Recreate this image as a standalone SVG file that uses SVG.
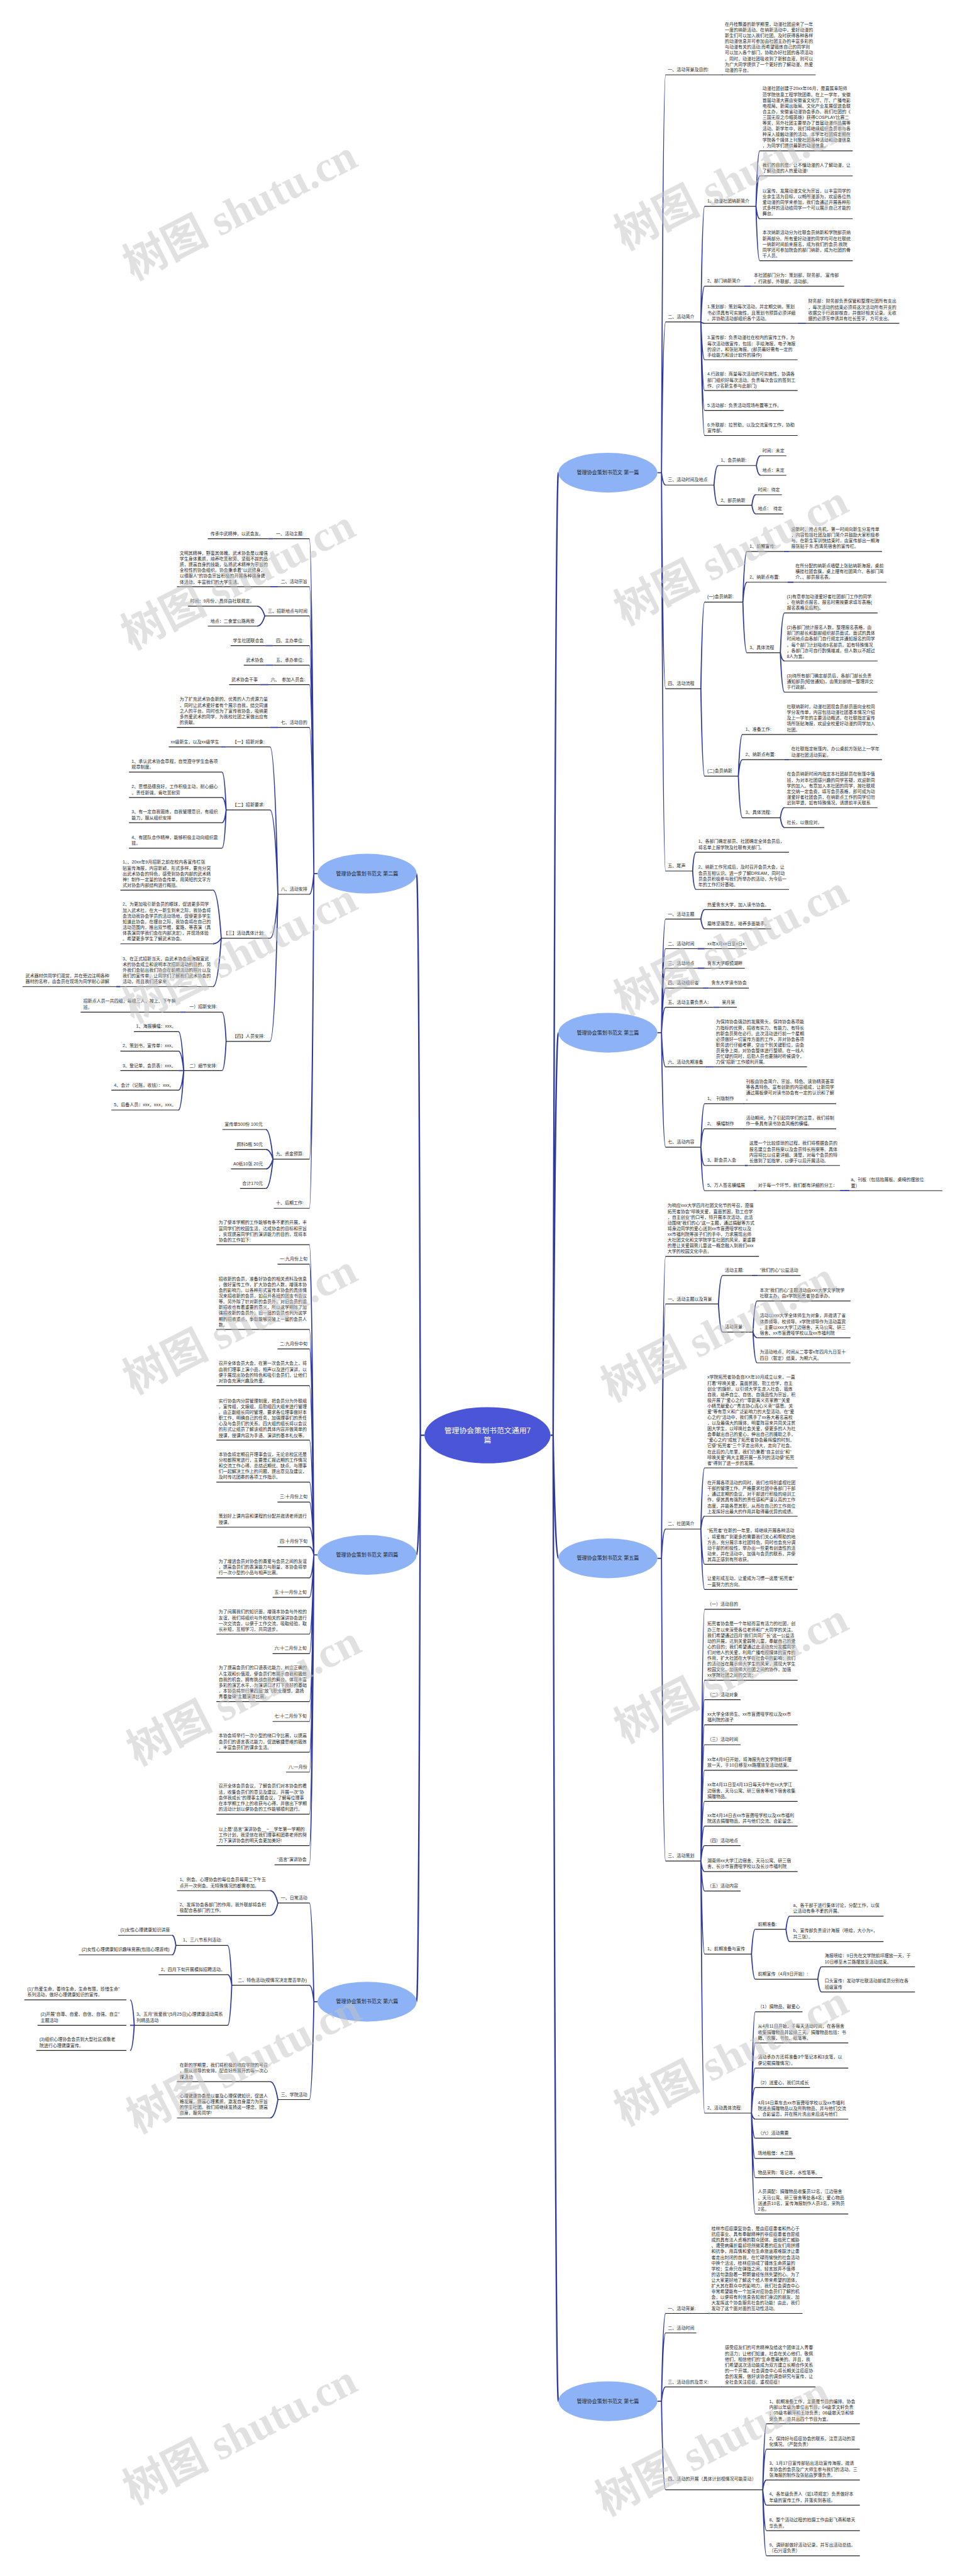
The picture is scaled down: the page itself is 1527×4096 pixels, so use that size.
<svg xmlns="http://www.w3.org/2000/svg" width="1527" height="4096" viewBox="0 0 1527 4096">
<style>
.t{font-family:"Liberation Sans","Noto Sans CJK SC",sans-serif;font-size:11.8px;fill:#2a2a2a;dominant-baseline:central}
.u{fill:none;stroke:#222;stroke-width:2}
.c{fill:none;stroke:#2e3b9c;stroke-width:3}
.c0{fill:none;stroke:#2e3b9c;stroke-width:4}
.e1{fill:#8db3f6}
.et{font-family:"Liberation Sans","Noto Sans CJK SC",sans-serif;font-size:13.5px;fill:#1f1f1f;text-anchor:middle;dominant-baseline:central}
.ct{font-family:"Liberation Sans","Noto Sans CJK SC",sans-serif;font-size:20px;fill:#fff;text-anchor:middle;dominant-baseline:central}
.wm{font-family:"Liberation Serif","Noto Sans CJK SC",serif;font-size:115px;font-weight:bold;fill:#c4c4c4;fill-opacity:.5;text-anchor:middle;dominant-baseline:central}
</style>
<rect width="1527" height="4096" fill="#fff"/>
<g transform="scale(0.59648)">
<g id="connectors">
<path class="c0" d="M1132 3826H1121 M1121 3826Q1117 2329 1111 2329 M1121 3826Q1117 4145 1111 4145 M1121 3826Q1117 5336 1111 5336 M1468 3826H1475 M1475 3826Q1481 1260 1489 1260 M1475 3826Q1481 2753 1489 2753 M1475 3826Q1481 4154 1489 4154 M1475 3826Q1481 6401 1489 6401"/>
<path class="c" d="M1753 1260H1764 M1764 1260Q1768 199.5 1775 199.5 M1764 1260Q1768 858 1775 858 M1764 1260Q1768 1293 1775 1293 M1764 1260Q1768 1836 1775 1836 M1764 1260Q1768 2322 1775 2322"/>
<path class="c" d="M1925 199.5H1927 M1869 858Q1873 550 1879 550 M1869 858Q1873 763 1879 763 M1869 858Q1873 862 1879 862 M1869 858Q1873 959 1879 959 M1869 858Q1873 1041 1879 1041 M1869 858Q1873 1094 1879 1094 M1869 858Q1873 1161 1879 1161"/>
<path class="c" d="M2016 550Q2020 402 2026 402 M2016 550Q2020 469 2026 469 M2016 550Q2020 583 2026 583 M2016 550Q2020 695 2026 695 M1985 763H2003 M2127 862H2150"/>
<path class="c" d="M1904 1293Q1908 1241 1915 1241 M1904 1293Q1908 1347 1915 1347 M2017 1241Q2021 1215 2028 1215 M2017 1241Q2021 1267 2028 1267 M2005 1347Q2009 1319 2015 1319 M2005 1347Q2009 1370 2015 1370"/>
<path class="c" d="M1869 1836Q1873 1605 1879 1605 M1869 1836Q1873 2069 1879 2069 M1981 1605Q1985 1470 1992 1470 M1981 1605Q1985 1552 1992 1552 M1981 1605Q1985 1740 1992 1740 M2090 1470H2104 M2100 1552H2116 M2081 1740Q2085 1634 2092 1634 M2081 1740Q2085 1762 2092 1762 M2081 1740Q2085 1845 2092 1845"/>
<path class="c" d="M1969 2069Q1973 1958 1980 1958 M1969 2069Q1973 2025 1980 2025 M1969 2069Q1973 2180 1980 2180 M2090 1958H2092 M2092 2025H2104 M2081 2180Q2085 2153 2092 2153 M2081 2180Q2085 2206 2092 2206 M1847 2322Q1850 2272 1856 2272 M1847 2322Q1850 2371 1856 2371"/>
<path class="c" d="M1753 2753H1764 M1764 2753Q1768 2450 1775 2450 M1764 2753Q1768 2529 1775 2529 M1764 2753Q1768 2581 1775 2581 M1764 2753Q1768 2634 1775 2634 M1764 2753Q1768 2685 1775 2685 M1764 2753Q1768 2844 1775 2844 M1764 2753Q1768 3058 1775 3058"/>
<path class="c" d="M1869 2450Q1873 2425 1879 2425 M1869 2450Q1873 2476 1879 2476 M1860 2529H1879 M1860 2581H1879 M1874 2634H1890 M1902 2685H1918 M1880 2844H1904"/>
<path class="c" d="M1869 3058Q1873 2942 1879 2942 M1869 3058Q1873 3009 1879 3009 M1869 3058Q1873 3107 1879 3107 M1869 3058Q1873 3174 1879 3174 M1982 2942H1985 M1982 3009H1985 M1986 3107H1994 M2010 3174H2017 M2240 3174H2265"/>
<path class="c" d="M1753 4154H1764 M1764 4154Q1768 3349 1775 3349 M1764 4154Q1768 3476 1775 3476 M1764 4154Q1768 4076 1775 4076 M1764 4154Q1768 4961 1775 4961"/>
<path class="c" d="M1916 3476Q1920 3400 1927 3400 M1916 3476Q1920 3551 1927 3551 M2005 3400H2021 M2008 3551Q2012 3468 2019 3468 M2008 3551Q2012 3566 2019 3566 M2008 3551Q2012 3633 2019 3633"/>
<path class="c" d="M1869 4076Q1873 3913 1879 3913 M1869 4076Q1873 4042 1879 4042 M1869 4076Q1873 4170 1879 4170 M1869 4076Q1873 4237 1879 4237"/>
<path class="c" d="M1869 4961Q1873 4290 1879 4290 M1869 4961Q1873 4479 1879 4479 M1869 4961Q1873 4531 1879 4531 M1869 4961Q1873 4598 1879 4598 M1869 4961Q1873 4651 1879 4651 M1869 4961Q1873 4719 1879 4719 M1869 4961Q1873 4802 1879 4802 M1869 4961Q1873 4868 1879 4868 M1869 4961Q1873 4920 1879 4920 M1869 4961Q1873 4989 1879 4989 M1869 4961Q1873 5041 1879 5041 M1869 4961Q1873 5209 1879 5209 M1869 4961Q1873 5633 1879 5633"/>
<path class="c" d="M2004 5209Q2008 5143 2014 5143 M2004 5209Q2008 5276 2014 5276 M2096 5143Q2100 5108 2106 5108 M2096 5143Q2100 5176 2106 5176 M2181 5276Q2185 5243 2191 5243 M2181 5276Q2185 5310 2191 5310"/>
<path class="c" d="M2004 5633Q2008 5363 2014 5363 M2004 5633Q2008 5446 2014 5446 M2004 5633Q2008 5513 2014 5513 M2004 5633Q2008 5565 2014 5565 M2004 5633Q2008 5649 2014 5649 M2004 5633Q2008 5700 2014 5700 M2004 5633Q2008 5754 2014 5754 M2004 5633Q2008 5805 2014 5805 M2004 5633Q2008 5902 2014 5902"/>
<path class="c" d="M1753 6401H1764 M1764 6401Q1768 6167 1775 6167 M1764 6401Q1768 6219 1775 6219 M1764 6401Q1768 6363 1775 6363 M1764 6401Q1768 6637 1775 6637 M1890 6167H1892 M1922 6363H1927"/>
<path class="c" d="M2034 6637Q2038 6461 2044 6461 M2034 6637Q2038 6529 2044 6529 M2034 6637Q2038 6611 2044 6611 M2034 6637Q2038 6678 2044 6678 M2034 6637Q2038 6746 2044 6746 M2034 6637Q2038 6813 2044 6813"/>
<path class="c" d="M847 2329H837 M837 2329Q832 1436 825 1436 M837 2329Q832 1564 825 1564 M837 2329Q832 1642 825 1642 M837 2329Q832 1721 825 1721 M837 2329Q832 1773 825 1773 M837 2329Q832 1825 825 1825 M837 2329Q832 1939 825 1939 M837 2329Q832 2384 825 2384 M837 2329Q832 3090 825 3090 M837 2329Q832 3221 825 3221"/>
<path class="c" d="M728 1436H715 M741 1564H720 M728 1721H708 M728 1773H708 M716 1825H693 M741 1939H720 M706 1642Q698 1616 685 1616 M706 1642Q698 1669 685 1669"/>
<path class="c" d="M741 2384Q733 1991 720 1991 M741 2384Q733 2159 720 2159 M741 2384Q733 2501 720 2501 M741 2384Q733 2776 720 2776 M603 1991H590 M603 2159Q599 2058 592 2058 M603 2159Q599 2126 592 2126 M603 2159Q599 2193 592 2193 M603 2159Q599 2261 592 2261"/>
<path class="c" d="M590 2501Q581 2373 568 2373 M590 2501Q581 2516 568 2516 M590 2501Q581 2630 568 2630 M321 2630H310"/>
<path class="c" d="M603 2776Q599 2698 592 2698 M603 2776Q599 2854 592 2854 M496 2698H480 M490 2854Q484 2750 476 2750 M490 2854Q484 2802 476 2802 M490 2854H476 M490 2854Q484 2906 476 2906 M490 2854Q484 2959 476 2959"/>
<path class="c" d="M728 3090Q720 3011 709 3011 M728 3090Q720 3064 709 3064 M728 3090Q720 3116 709 3116 M728 3090Q720 3168 709 3168"/>
<path class="c" d="M847 4145H837 M837 4145Q832 3318 825 3318 M837 4145Q832 3370 825 3370 M837 4145Q832 3544 825 3544 M837 4145Q832 3596 825 3596 M837 4145Q832 3694 825 3694 M837 4145Q832 3839 825 3839 M837 4145Q832 3951 825 3951 M837 4145Q832 4004 825 4004 M837 4145Q832 4071 825 4071 M837 4145Q832 4123 825 4123 M837 4145Q832 4206 825 4206 M837 4145Q832 4258 825 4258 M837 4145Q832 4356 825 4356 M837 4145Q832 4408 825 4408 M837 4145Q832 4536 825 4536 M837 4145Q832 4589 825 4589 M837 4145Q832 4671 825 4671 M837 4145Q832 4724 825 4724 M837 4145Q832 4836 825 4836 M837 4145Q832 4920 825 4920 M837 4145Q832 4971 825 4971"/>
<path class="c" d="M847 5336H837 M837 5336Q832 5073 825 5073 M837 5336Q832 5292 825 5292 M837 5336Q832 5597 825 5597 M741 5073Q733 5040 720 5040 M741 5073Q733 5106 720 5106 M741 5597Q733 5549 720 5549 M741 5597Q733 5646 720 5646"/>
<path class="c" d="M618 5292Q614 5186 607 5186 M618 5292Q614 5264 607 5264 M618 5292Q614 5399 607 5399 M469 5186Q465 5159 459 5159 M469 5186Q465 5211 459 5211 M358 5399Q354 5331 347 5331 M358 5399H347 M358 5399Q354 5466 347 5466"/>
</g>
<g id="root"><ellipse cx="1300" cy="3826" rx="168" ry="75" fill="#4a55d8"/><text class="ct" x="1300" y="3814">管理协会策划书范文通用7<tspan x="1300" dy="25">篇</tspan></text></g>
<g id="p1"><ellipse class="e1" cx="1621" cy="1260" rx="132" ry="53"/><text class="et" x="1621" y="1260">管理协会策划书范文 第一篇</text></g>
<g id="p2"><ellipse class="e1" cx="979" cy="2329" rx="132" ry="53"/><text class="et" x="979" y="2329">管理协会策划书范文 第二篇</text></g>
<g id="p3"><ellipse class="e1" cx="1621" cy="2753" rx="132" ry="53"/><text class="et" x="1621" y="2753">管理协会策划书范文 第三篇</text></g>
<g id="p4"><ellipse class="e1" cx="979" cy="4145" rx="132" ry="53"/><text class="et" x="979" y="4145">管理协会策划书范文 第四篇</text></g>
<g id="p5"><ellipse class="e1" cx="1621" cy="4154" rx="132" ry="53"/><text class="et" x="1621" y="4154">管理协会策划书范文 第五篇</text></g>
<g id="p6"><ellipse class="e1" cx="979" cy="5336" rx="132" ry="53"/><text class="et" x="979" y="5336">管理协会策划书范文 第六篇</text></g>
<g id="p7"><ellipse class="e1" cx="1621" cy="6401" rx="132" ry="53"/><text class="et" x="1621" y="6401">管理协会策划书范文 第七篇</text></g>

<g id="r1a"><text class="t" x="1781" y="185.5">一、活动背景及目的:</text><path class="u" d="M1775 199.5H1925"/></g>
<g id="r1a1"><text class="t" x="1933" y="63.9">在丹桂飘香的新学期里，动漫社团迎来了一年<tspan x="1933" dy="15.2">一度的纳新活动。在纳新活动中，爱好动漫的</tspan><tspan x="1933" dy="15.2">新生们可以加入我们社团。及时获得各种各样</tspan><tspan x="1933" dy="15.2">的动漫信息并可参加由社团主办的丰富多彩的</tspan><tspan x="1933" dy="15.2">与动漫有关的活动;而希望锻炼自己的同学则</tspan><tspan x="1933" dy="15.2">可以加入各个部门，协助办好社团的各项活动</tspan><tspan x="1933" dy="15.2">。同时，动漫社团吸收到了新鲜血液，则可以</tspan><tspan x="1933" dy="15.2">为广大同学提供了一个更好的了解动漫、热爱</tspan><tspan x="1933" dy="15.2">动漫的平台。</tspan></text><path class="u" d="M1927 199.5H2175"/></g>
<g id="r1b"><text class="t" x="1781" y="844">二、活动简介</text><path class="u" d="M1775 858H1869"/></g>
<g id="r1b1"><text class="t" x="1886" y="536">1、动漫社团纳新简介</text><path class="u" d="M1879 550H2016"/></g>
<g id="r1b1a"><text class="t" x="2033" y="236">动漫社团创建于20xx年06月，是直属阜阳师<tspan x="2033" dy="15.2">范学院信息工程学院团委。在上一学年，安徽</tspan><tspan x="2033" dy="15.2">首届动漫大赛由安徽省文化厅、厅、广播电影</tspan><tspan x="2033" dy="15.2">电视局、新闻出版局、文化产业发展促进会联</tspan><tspan x="2033" dy="15.2">合主办，安徽省动漫协会承办。我们社团的《</tspan><tspan x="2033" dy="15.2">三国无双之巾帼英雄》获得COSPLAY比赛二</tspan><tspan x="2033" dy="15.2">等奖，另外社团主要举办了首届动漫作品展等</tspan><tspan x="2033" dy="15.2">活动。新学年中，我们将继续组织会员参与各</tspan><tspan x="2033" dy="15.2">种深入接触动漫的活动。本学年社团将定期在</tspan><tspan x="2033" dy="15.2">学院各个媒体上刊登社团各种活动和动漫信息</tspan><tspan x="2033" dy="15.2">，为同学们提供最新的动漫信息。</tspan></text><path class="u" d="M2026 402H2274"/></g>
<g id="r1b1b"><text class="t" x="2033" y="439.8">我们的目的是：让不懂动漫的人了解动漫，让<tspan x="2033" dy="15.2">了解动漫的人热爱动漫!</tspan></text><path class="u" d="M2026 469H2274"/></g>
<g id="r1b1c"><text class="t" x="2033" y="508.2">以宣传、发展动漫文化为宗旨，以丰富同学的<tspan x="2033" dy="15.2">业余生活为目标，以畅所漫游为，欢迎各位热</tspan><tspan x="2033" dy="15.2">爱动漫的同学来参加，我们会通过开展各种形</tspan><tspan x="2033" dy="15.2">式多样的活动给同学一个可以展示自己才能的</tspan><tspan x="2033" dy="15.2">舞台。</tspan></text><path class="u" d="M2026 583H2274"/></g>
<g id="r1b1d"><text class="t" x="2033" y="620.2">本次纳新活动分为社联会员纳新和学院部员纳<tspan x="2033" dy="15.2">新两部分。所有爱好动漫的同学均可在社联统</tspan><tspan x="2033" dy="15.2">一纳新时间前来报名，成为我们的会员;我院</tspan><tspan x="2033" dy="15.2">同学还可参加院会的部门纳新，成为社团的骨</tspan><tspan x="2033" dy="15.2">干人员。</tspan></text><path class="u" d="M2026 695H2274"/></g>
<g id="r1b2"><text class="t" x="1886" y="749">2、部门纳新简介</text><path class="u" d="M1879 763H1985"/></g>
<g id="r1b2a"><text class="t" x="2010" y="733.8">本社团部门分为：策划部，财务部，.宣传部<tspan x="2010" dy="15.2">，行政部，外联部，活动部。</tspan></text><path class="u" d="M2003 763H2251"/></g>
<g id="r1b3"><text class="t" x="1886" y="817.6">1.策划部：策划每次活动，并定期交纳，策划<tspan x="1886" dy="15.2">书必须具有可实施性，且策划书预算必须详细</tspan><tspan x="1886" dy="15.2">。并协助活动部组织各个活动。</tspan></text><path class="u" d="M1879 862H2127"/></g>
<g id="r1b3a"><text class="t" x="2155" y="802.4">财务部：财务部负责保管和整理社团所有支出<tspan x="2155" dy="15.2">，每次活动的结束必须将这次活动所有开支的</tspan><tspan x="2155" dy="15.2">收据交于行政部核查，并做好相关记录。无收</tspan><tspan x="2155" dy="15.2">据的必须写申请并有社长签字，方可支出。</tspan></text><path class="u" d="M2150 862H2398"/></g>
<g id="r1b4"><text class="t" x="1886" y="899.4">3.宣传部：负责动漫社在校内的宣传工作，为<tspan x="1886" dy="15.2">每次活动做宣传，包括：手绘海报，电子海报</tspan><tspan x="1886" dy="15.2">的设计，和张贴海报。(部员最好需有一定的</tspan><tspan x="1886" dy="15.2">手绘能力和设计软件的操作)</tspan></text><path class="u" d="M1879 959H2127"/></g>
<g id="r1b5"><text class="t" x="1886" y="996.6">4.行政部：商量每次活动的可实施性，协调各<tspan x="1886" dy="15.2">部门组织好每次活动。负责每次会议的签到工</tspan><tspan x="1886" dy="15.2">作。(2名新生参与此部门)</tspan></text><path class="u" d="M1879 1041H2127"/></g>
<g id="r1b6"><text class="t" x="1886" y="1080">5.活动部：负责活动现场布置等工作。</text><path class="u" d="M1879 1094H2090"/></g>
<g id="r1b7"><text class="t" x="1886" y="1131.8">6.外联部：拉赞助，以及交流宣传工作，协助<tspan x="1886" dy="15.2">宣传部。</tspan></text><path class="u" d="M1879 1161H2127"/></g>
<g id="r1c"><text class="t" x="1781" y="1279">三、活动时间及地点</text><path class="u" d="M1775 1293H1904"/></g>
<g id="r1c1"><text class="t" x="1922" y="1227">1、会员纳新:</text><path class="u" d="M1915 1241H2017"/></g>
<g id="r1c1a"><text class="t" x="2033" y="1201">时间：未定</text><path class="u" d="M2028 1215H2097"/></g>
<g id="r1c1b"><text class="t" x="2033" y="1253">地点：未定</text><path class="u" d="M2028 1267H2097"/></g>
<g id="r1c2"><text class="t" x="1922" y="1333">2、部员纳新</text><path class="u" d="M1915 1347H2005"/></g>
<g id="r1c2a"><text class="t" x="2021" y="1305">时间：待定</text><path class="u" d="M2015 1319H2085"/></g>
<g id="r1c2b"><text class="t" x="2021" y="1356">地点：　待定</text><path class="u" d="M2015 1370H2089"/></g>
<g id="r1d"><text class="t" x="1781" y="1822">四、活动流程</text><path class="u" d="M1775 1836H1869"/></g>
<g id="r1d1"><text class="t" x="1886" y="1591">(一)会员纳新:</text><path class="u" d="M1879 1605H1981"/></g>
<g id="r1d1a"><text class="t" x="1999" y="1456">1、前期宣传:</text><path class="u" d="M1992 1470H2090"/></g>
<g id="r1d1a1"><text class="t" x="2110" y="1410.4">迎新时，抢占先机，第一时间向新生分发传单<tspan x="2110" dy="15.2">，内容包括社团及部门简介并鼓励大家积极参</tspan><tspan x="2110" dy="15.2">与。在新生军训快结束时，由宣传部出一期海</tspan><tspan x="2110" dy="15.2">报张贴于东.西清苑宿舍的宣传栏。</tspan></text><path class="u" d="M2104 1470H2352"/></g>
<g id="r1d1b"><text class="t" x="1999" y="1538">2、纳新点布置:</text><path class="u" d="M1992 1552H2100"/></g>
<g id="r1d1b1"><text class="t" x="2121" y="1507.6">在所分配的纳新点墙壁上张贴纳新海报，桌前<tspan x="2121" dy="15.2">横挂社团会旗，桌上摆有社团简介、各部门简</tspan><tspan x="2121" dy="15.2">介、、部员报名表。</tspan></text><path class="u" d="M2116 1552H2364"/></g>
<g id="r1d1c"><text class="t" x="1999" y="1726">3、具体流程</text><path class="u" d="M1992 1740H2081"/></g>
<g id="r1d1c1"><text class="t" x="2098" y="1589.6">(1)有意参加动漫爱好者社团部门工作的同学<tspan x="2098" dy="15.2">，在纳新点报名，报名时需按要求填写表格(</tspan><tspan x="2098" dy="15.2">报名表格见后附)。</tspan></text><path class="u" d="M2092 1634H2340"/></g>
<g id="r1d1c2"><text class="t" x="2098" y="1672">(2)各部门统计报名人数，整理报名表格，由<tspan x="2098" dy="15.2">部门的部长和副部组织部员面试。面试的具体</tspan><tspan x="2098" dy="15.2">时间地点由各部门自行规定并通知报名的同学</tspan><tspan x="2098" dy="15.2">。每个部门计划吸收6名部员。如有特殊情况</tspan><tspan x="2098" dy="15.2">，各部门亦可自行酌情增减，但人数以不超过</tspan><tspan x="2098" dy="15.2">8人为宜。</tspan></text><path class="u" d="M2092 1762H2340"/></g>
<g id="r1d1c3"><text class="t" x="2098" y="1800.6">(3)待所有部门确定部员后，各部门部长负责<tspan x="2098" dy="15.2">通知部员(短信通知)，由策划部统一整理并交</tspan><tspan x="2098" dy="15.2">于行政部。</tspan></text><path class="u" d="M2092 1845H2340"/></g>
<g id="r1d2"><text class="t" x="1886" y="2055">(二)会员纳新</text><path class="u" d="M1879 2069H1969"/></g>
<g id="r1d2a"><text class="t" x="1988" y="1944">1、准备工作:</text><path class="u" d="M1980 1958H2090"/></g>
<g id="r1d2a1"><text class="t" x="2098" y="1883.2">社联纳新时，动漫社团现会员部员面向全校同<tspan x="2098" dy="15.2">学分发传单，内容包括动漫社团基本情况介绍</tspan><tspan x="2098" dy="15.2">及上一学年的主要活动概述。在社联指定宣传</tspan><tspan x="2098" dy="15.2">场所张贴海报，欢迎全校爱好动漫的同学加入</tspan><tspan x="2098" dy="15.2">社团。</tspan></text><path class="u" d="M2092 1958H2340"/></g>
<g id="r1d2b"><text class="t" x="1988" y="2011">2、纳新点布置:</text><path class="u" d="M1980 2025H2092"/></g>
<g id="r1d2b1"><text class="t" x="2110" y="1995.8">在社联指定帐篷内，办公桌前方张贴上一学年<tspan x="2110" dy="15.2">动漫社团活动剪影。</tspan></text><path class="u" d="M2104 2025H2352"/></g>
<g id="r1d2c"><text class="t" x="1988" y="2166">3、具体流程:</text><path class="u" d="M1980 2180H2081"/></g>
<g id="r1d2c1"><text class="t" x="2098" y="2063">在会员纳新时间内指定本社团部员在帐篷中值<tspan x="2098" dy="15.2">班，为对本社团感兴趣的同学答疑，欢迎新同</tspan><tspan x="2098" dy="15.2">学的加入。有意加入本社团的同学，按社联规</tspan><tspan x="2098" dy="15.2">定交纳一定会费，填写会员表格，即可成为动</tspan><tspan x="2098" dy="15.2">漫爱好者社团会员，在纳新点工作的同学切勿</tspan><tspan x="2098" dy="15.2">迟到早退，如有特殊情况，请提前半天联系</tspan></text><path class="u" d="M2092 2153H2340"/></g>
<g id="r1d2c2"><text class="t" x="2098" y="2192">社长，以做应对。</text><path class="u" d="M2092 2206H2198"/></g>
<g id="r1e"><text class="t" x="1781" y="2308">五、尾声</text><path class="u" d="M1775 2322H1847"/></g>
<g id="r1e1"><text class="t" x="1862" y="2242.8">1、各部门确定部员、社团确定全体会员后，<tspan x="1862" dy="15.2">将名单上报学院及社联有关部门。</tspan></text><path class="u" d="M1856 2272H2104"/></g>
<g id="r1e2"><text class="t" x="1862" y="2311.4">2、纳新工作完成后，及时召开会员大会，让<tspan x="1862" dy="15.2">会员互相认识、进一步了解DREAM，同时动</tspan><tspan x="1862" dy="15.2">员会员积极参与我们所举办的活动，为今后一</tspan><tspan x="1862" dy="15.2">年的工作打好基础。</tspan></text><path class="u" d="M1856 2371H2104"/></g>

<g id="r3a"><text class="t" x="1781" y="2436">一、活动主题</text><path class="u" d="M1775 2450H1869"/></g>
<g id="r3a1"><text class="t" x="1886" y="2411">热爱鲁东大学，加入读书协会。</text><path class="u" d="M1879 2425H2056"/></g>
<g id="r3a2"><text class="t" x="1886" y="2462">磨练坚强意志，培养多面能手。</text><path class="u" d="M1879 2476H2056"/></g>
<g id="r3b"><text class="t" x="1781" y="2515">二、活动时间</text><path class="u" d="M1775 2529H1860"/></g>
<g id="r3b1"><text class="t" x="1886" y="2515">xx年x月xx日至x日x</text><path class="u" d="M1879 2529H1992"/></g>
<g id="r3c"><text class="t" x="1781" y="2567">三、活动地点</text><path class="u" d="M1775 2581H1860"/></g>
<g id="r3c1"><text class="t" x="1886" y="2567">鲁东大学眼镜湖畔</text><path class="u" d="M1879 2581H1986"/></g>
<g id="r3d"><text class="t" x="1781" y="2620">四、活动组织者</text><path class="u" d="M1775 2634H1874"/></g>
<g id="r3d1"><text class="t" x="1897" y="2620">鲁东大学读书协会</text><path class="u" d="M1890 2634H1997"/></g>
<g id="r3e"><text class="t" x="1781" y="2671">五、活动主要负责人:</text><path class="u" d="M1775 2685H1902"/></g>
<g id="r3e1"><text class="t" x="1925" y="2671">吴月吴</text><path class="u" d="M1918 2685H1965"/></g>
<g id="r3f"><text class="t" x="1781" y="2830">六、活动先期准备</text><path class="u" d="M1775 2844H1880"/></g>
<g id="r3f1"><text class="t" x="1909" y="2723.6">为保持协会强劲的发展势头，保持协会各项能<tspan x="1909" dy="15.2">力指标的优势，招收有实力、有能力、有特长</tspan><tspan x="1909" dy="15.2">的新会员势在必行。此次活动进行前一个星期</tspan><tspan x="1909" dy="15.2">必须做好一切宣传方面的工作，并对协会各项</tspan><tspan x="1909" dy="15.2">职务进行仔细考察，空出个别关键职位，由会</tspan><tspan x="1909" dy="15.2">员竞争上岗，对协会整体进行整顿。在一线人</tspan><tspan x="1909" dy="15.2">员忙碌的同时，后勤人员也要随时听候调令，</tspan><tspan x="1909" dy="15.2">力保"招新"工作顺利开展。</tspan></text><path class="u" d="M1904 2844H2152"/></g>
<g id="r3g"><text class="t" x="1781" y="3044">七、活动内容</text><path class="u" d="M1775 3058H1869"/></g>
<g id="r3g1"><text class="t" x="1886" y="2928">1、　刊版制作</text><path class="u" d="M1879 2942H1982"/></g>
<g id="r3g1a"><text class="t" x="1989" y="2882.4">刊板由协会简介、宗旨、特色、读协精英荟萃<tspan x="1989" dy="15.2">等各具特色、富有创新的内容组成，让新同学</tspan><tspan x="1989" dy="15.2">通过展板便可对读书协会有一定的认识和了解</tspan><tspan x="1989" dy="15.2">。</tspan></text><path class="u" d="M1985 2942H2230"/></g>
<g id="r3g2"><text class="t" x="1886" y="2995">2、　横幅制作</text><path class="u" d="M1879 3009H1982"/></g>
<g id="r3g2a"><text class="t" x="1989" y="2979.8">活动期间，为了引起同学们的注意，我们将制<tspan x="1989" dy="15.2">作一条具有读书协会风格的横幅。</tspan></text><path class="u" d="M1985 3009H2230"/></g>
<g id="r3g3"><text class="t" x="1886" y="3093">3、新会员入会</text><path class="u" d="M1879 3107H1986"/></g>
<g id="r3g3a"><text class="t" x="1998" y="3047.4">这是一个比较烦琐的过程，我们将根据会员的<tspan x="1998" dy="15.2">报名建立会员档案以及会员特长档案等。具体</tspan><tspan x="1998" dy="15.2">内容将比以往更详细、清楚，对每个会员的特</tspan><tspan x="1998" dy="15.2">长做到了如指掌，以便于以后开展活动。</tspan></text><path class="u" d="M1994 3107H2240"/></g>
<g id="r3g4"><text class="t" x="1886" y="3160">5、万人签名横幅展</text><path class="u" d="M1879 3174H2010"/></g>
<g id="r3g4a"><text class="t" x="2021" y="3160">对于每一个环节，我们都有详细的分工：</text><path class="u" d="M2017 3174H2240"/></g>
<g id="r3g4a1"><text class="t" x="2269" y="3144.8">a、刊板（包括抬展板、桌椅的摆放位<tspan x="2269" dy="15.2">置）</tspan></text><path class="u" d="M2265 3174H2513"/></g>

<g id="r5a"><text class="t" x="1780" y="3213.4">为响应xxx大学四月社团文化节的号召，遵循<tspan x="1780" dy="15.2">拓荒者协会"呼唤关爱，直面贫困，勤工俭学</tspan><tspan x="1780" dy="15.2">，自主创业"的口号，特开展本次活动，此活</tspan><tspan x="1780" dy="15.2">动围绕"我们的心"这一主题，通过捐献等方式</tspan><tspan x="1780" dy="15.2">将身边同学的爱心送到xx市盲聋哑学校以及</tspan><tspan x="1780" dy="15.2">xx市福利院等孩子们的手中，力求展现出师</tspan><tspan x="1780" dy="15.2">大社团文化和文学院学生社团的风采，更重要</tspan><tspan x="1780" dy="15.2">的是让关爱弱势儿童这一概念融入到我们xxx</tspan><tspan x="1780" dy="15.2">大学的校园文化中去。</tspan></text><path class="u" d="M1775 3349H2024"/></g>
<g id="r5b"><text class="t" x="1781" y="3462">一、活动主题以及背景</text><path class="u" d="M1775 3476H1916"/></g>
<g id="r5b1"><text class="t" x="1933" y="3386">活动主题:</text><path class="u" d="M1927 3400H2005"/></g>
<g id="r5b1a"><text class="t" x="2026" y="3386">"我们的心"公益活动</text><path class="u" d="M2021 3400H2135"/></g>
<g id="r5b2"><text class="t" x="1933" y="3537">活动背景:</text><path class="u" d="M1927 3551H2008"/></g>
<g id="r5b2a"><text class="t" x="2026" y="3438.8">本次"我们的心"主题活动由xxx大学文学院学<tspan x="2026" dy="15.2">社联主办，由x学院拓荒者协会承办。</tspan></text><path class="u" d="M2019 3468H2268"/></g>
<g id="r5b2b"><text class="t" x="2026" y="3506.4">活动以xxx大学全体师生为对象，并邀请了省<tspan x="2026" dy="15.2">体委领导。校领导。x学院领导作为活动嘉宾</tspan><tspan x="2026" dy="15.2">。主要以xxx大学江边宿舍、天马公寓、研三</tspan><tspan x="2026" dy="15.2">宿舍、xx市盲聋哑学校以及xx市福利院</tspan></text><path class="u" d="M2019 3566H2268"/></g>
<g id="r5b2c"><text class="t" x="2026" y="3603.8">为活动地点，时间从二零零x年四月九日至十<tspan x="2026" dy="15.2">四日（暂定）结束，为期六天。</tspan></text><path class="u" d="M2019 3633H2268"/></g>
<g id="r5c"><text class="t" x="1781" y="4062">二、社团简介</text><path class="u" d="M1775 4076H1869"/></g>
<g id="r5c1"><text class="t" x="1886" y="3671">x学院拓荒者协会自XX年10月成立以来，一直<tspan x="1886" dy="15.2">打着"呼唤关爱，直面贫困，勤工俭学，自主</tspan><tspan x="1886" dy="15.2">创业"的旗帜，以引领大学生走入社会，锻炼</tspan><tspan x="1886" dy="15.2">自我，培养自立、自信、自强品性为宗旨，积</tspan><tspan x="1886" dy="15.2">极开展了"爱心之约""零距离义务家教""关爱</tspan><tspan x="1886" dy="15.2">小精灵献爱心""青志协心连心义卖""感恩。关</tspan><tspan x="1886" dy="15.2">爱"等有意义和广泛影响力的大型活动。在"爱</tspan><tspan x="1886" dy="15.2">心之约"活动中，我们携手了xx各大著名高校</tspan><tspan x="1886" dy="15.2">，以及最强大的媒体，明星阵容来共同关注贫</tspan><tspan x="1886" dy="15.2">困大学生，以呼唤社会关爱，使更多的人为社</tspan><tspan x="1886" dy="15.2">会奉献出自己的爱心，伸出自己的援助之手，</tspan><tspan x="1886" dy="15.2">"爱心之约"成就了拓荒者协会最辉煌的时刻，</tspan><tspan x="1886" dy="15.2">它使"拓荒者"三个字走出师大，走向了社会。</tspan><tspan x="1886" dy="15.2">在此后的几年里，我们仍秉着"自主创业"和"</tspan><tspan x="1886" dy="15.2">呼唤关爱"两大主题开展一系列的活动使"拓荒</tspan><tspan x="1886" dy="15.2">者"得到了进一步的发展。</tspan></text><path class="u" d="M1879 3913H2127"/></g>
<g id="r5c2"><text class="t" x="1886" y="3952">在开展各项活动的同时，我们也特别重视社团<tspan x="1886" dy="15.2">干部的管理工作。严格要求社团中各部门干部</tspan><tspan x="1886" dy="15.2">，通过定期的会议，对干部进行积极的培训工</tspan><tspan x="1886" dy="15.2">作，使其具有强烈的责任感和严谨认真的工作</tspan><tspan x="1886" dy="15.2">态度，并能各思其职，从而在自己的工作岗位</tspan><tspan x="1886" dy="15.2">上发挥好出最大的作用并取得最优异的成绩。</tspan></text><path class="u" d="M1879 4042H2127"/></g>
<g id="r5c3"><text class="t" x="1886" y="4080">"拓荒者"在新的一年里，将继续开展各种活动<tspan x="1886" dy="15.2">，将爱推广到更多的需要我们关心和帮助的地</tspan><tspan x="1886" dy="15.2">方去，充分展示本社团特色，同时也会充分调</tspan><tspan x="1886" dy="15.2">动干部的积极性，举办出一些更有创造性的活</tspan><tspan x="1886" dy="15.2">动来，并在活动中，加强与会员的联系，并使</tspan><tspan x="1886" dy="15.2">其真正感到有所收获。</tspan></text><path class="u" d="M1879 4170H2127"/></g>
<g id="r5c4"><text class="t" x="1886" y="4207.8">让爱形成互动，让爱成为习惯一这是"拓荒者"<tspan x="1886" dy="15.2">一直努力的方向。</tspan></text><path class="u" d="M1879 4237H2127"/></g>
<g id="r5d"><text class="t" x="1781" y="4947">三、活动策划</text><path class="u" d="M1775 4961H1869"/></g>
<g id="r5d1"><text class="t" x="1886" y="4276">（一）活动目的</text><path class="u" d="M1879 4290H1975"/></g>
<g id="r5d2"><text class="t" x="1886" y="4328.2">拓荒者协会是一个年轻而富有活力的社团，创<tspan x="1886" dy="15.2">办三年以来深受各位老师和广大同学的关注。</tspan><tspan x="1886" dy="15.2">我们希望通过四月"我们共同厂长"这一公益活</tspan><tspan x="1886" dy="15.2">动的开展，达到关爱弱势儿童，奉献自己的爱</tspan><tspan x="1886" dy="15.2">心的目的；我们希望通过此活动充分发掘同学</tspan><tspan x="1886" dy="15.2">们对他人的关爱，利用广播电视媒体的宣传的</tspan><tspan x="1886" dy="15.2">作用，扩大社团在大学在社会中的影响；我们</tspan><tspan x="1886" dy="15.2">的活动旨在展示师大学生的风采，展现大学生</tspan><tspan x="1886" dy="15.2">校园文化，加强师大社团之间的协作，加强</tspan><tspan x="1886" dy="15.2">xx学院社团之间的交流；</tspan></text><path class="u" d="M1879 4479H2127"/></g>
<g id="r5d3"><text class="t" x="1886" y="4517">（二）活动对象</text><path class="u" d="M1879 4531H1975"/></g>
<g id="r5d4"><text class="t" x="1886" y="4568.8">xx大学全体师生、xx市盲聋哑学校以及xx市<tspan x="1886" dy="15.2">福利院的孩子</tspan></text><path class="u" d="M1879 4598H2127"/></g>
<g id="r5d5"><text class="t" x="1886" y="4637">（三）活动时间</text><path class="u" d="M1879 4651H1975"/></g>
<g id="r5d6"><text class="t" x="1886" y="4689.8">xx年4月9日开始，将海报先在文学院前坪摆<tspan x="1886" dy="15.2">放一天，于10日移至xx路摆放至活动结束。</tspan></text><path class="u" d="M1879 4719H2127"/></g>
<g id="r5d7"><text class="t" x="1886" y="4757.6">xx年4月11日至4月13日每天中午在xx大学江<tspan x="1886" dy="15.2">边宿舍、天马公寓、研三宿舍等地下宿舍收集</tspan><tspan x="1886" dy="15.2">捐赠物品。</tspan></text><path class="u" d="M1879 4802H2127"/></g>
<g id="r5d8"><text class="t" x="1886" y="4838.8">xx年4月14日去xx市盲聋哑学校以及xx市福利<tspan x="1886" dy="15.2">院送去捐赠物品，并与他们交流、合影留念。</tspan></text><path class="u" d="M1879 4868H2127"/></g>
<g id="r5d9"><text class="t" x="1886" y="4906">（四）活动地点</text><path class="u" d="M1879 4920H1975"/></g>
<g id="r5d10"><text class="t" x="1886" y="4959.8">湖南师xx大学江边宿舍、天马公寓、研三宿<tspan x="1886" dy="15.2">舍、长沙市盲聋哑学校以及长沙市福利院</tspan></text><path class="u" d="M1879 4989H2127"/></g>
<g id="r5d11"><text class="t" x="1886" y="5027">（五）活动内容</text><path class="u" d="M1879 5041H1975"/></g>
<g id="r5d12"><text class="t" x="1886" y="5195">1、前期准备与宣传</text><path class="u" d="M1879 5209H2004"/></g>
<g id="r5d12a"><text class="t" x="2021" y="5129">前期准备:</text><path class="u" d="M2014 5143H2096"/></g>
<g id="r5d12a1"><text class="t" x="2115" y="5078.8">a、各干部于进行集体讨论，分配工作，以保<tspan x="2115" dy="15.2">让活动有条不紊的开展。</tspan></text><path class="u" d="M2106 5108H2356"/></g>
<g id="r5d12a2"><text class="t" x="2115" y="5146.8">b、宣传部负责设计海报（喷绘，大小为×，<tspan x="2115" dy="15.2">共三张）。</tspan></text><path class="u" d="M2106 5176H2356"/></g>
<g id="r5d12b"><text class="t" x="2021" y="5262">前期宣传（4月9日开始）:</text><path class="u" d="M2014 5276H2181"/></g>
<g id="r5d12b1"><text class="t" x="2199" y="5213.8">海报喷绘：9日先在文学院前坪摆放一天，于<tspan x="2199" dy="15.2">10日移至木兰路摆放至活动结束。</tspan></text><path class="u" d="M2191 5243H2440"/></g>
<g id="r5d12b2"><text class="t" x="2199" y="5280.8">口头宣传：发动学社联活动部成员分别在各<tspan x="2199" dy="15.2">班级宣传</tspan></text><path class="u" d="M2191 5310H2440"/></g>
<g id="r5d13"><text class="t" x="1886" y="5619">2、活动具体流程:</text><path class="u" d="M1879 5633H2004"/></g>
<g id="r5d13a"><text class="t" x="2021" y="5349">（1）捐物品，献爱心</text><path class="u" d="M2014 5363H2140"/></g>
<g id="r5d13b"><text class="t" x="2021" y="5401.6">从4月11日开始，于每天活动时间，在各宿舍<tspan x="2021" dy="15.2">收集捐赠物品并延续三天。捐赠物品包括：书</tspan><tspan x="2021" dy="15.2">籍、衣服，书包，纸笔等。</tspan></text><path class="u" d="M2014 5446H2262"/></g>
<g id="r5d13c"><text class="t" x="2021" y="5483.8">活动承办方还将准备3个笔记本和3支笔，以<tspan x="2021" dy="15.2">便记载捐赠情况）。</tspan></text><path class="u" d="M2014 5513H2262"/></g>
<g id="r5d13d"><text class="t" x="2021" y="5551">（2）送爱心，我们共成长</text><path class="u" d="M2014 5565H2160"/></g>
<g id="r5d13e"><text class="t" x="2021" y="5604.6">4月14日乘车去xx市盲聋哑学校以及xx市福利<tspan x="2021" dy="15.2">院送去捐赠物品以及所购物品，并与他们交流</tspan><tspan x="2021" dy="15.2">、合影留恋，并在照片洗出来后送与他们</tspan></text><path class="u" d="M2014 5649H2262"/></g>
<g id="r5d13f"><text class="t" x="2021" y="5686">（六）活动需要</text><path class="u" d="M2014 5700H2110"/></g>
<g id="r5d13g"><text class="t" x="2021" y="5740">场地租借：木兰路</text><path class="u" d="M2014 5754H2121"/></g>
<g id="r5d13h"><text class="t" x="2021" y="5791">物品采购：笔记本，水性笔等。</text><path class="u" d="M2014 5805H2193"/></g>
<g id="r5d13i"><text class="t" x="2021" y="5842.4">人员调配：捐赠物品收集员12名，江边宿舍<tspan x="2021" dy="15.2">、天马公寓、研三宿舍等处各4名；爱心物品</tspan><tspan x="2021" dy="15.2">送递员10名，宣传海报制作人员3名，采购员</tspan><tspan x="2021" dy="15.2">2名。</tspan></text><path class="u" d="M2014 5902H2262"/></g>

<g id="r7a"><text class="t" x="1781" y="6153">一、活动背景:</text><path class="u" d="M1775 6167H1890"/></g>
<g id="r7a1"><text class="t" x="1897" y="5940.2">桂林市癌症康复协会，是由癌症患者和热心于<tspan x="1897" dy="15.2">抗癌事业、具有奉献精神的非癌症患者自愿组</tspan><tspan x="1897" dy="15.2">成的具有法人资格的群众团体。面临死亡威胁</tspan><tspan x="1897" dy="15.2">、遭受病痛折磨却坦然微笑着的癌友们用拼搏</tspan><tspan x="1897" dy="15.2">和抗争，用真情和爱在生命旅途艰难跋涉让患</tspan><tspan x="1897" dy="15.2">者走出封闭的自我，在忙碌而愉快的社会活动</tspan><tspan x="1897" dy="15.2">中换个活法，桂林癌协成了锤炼生命质量的</tspan><tspan x="1897" dy="15.2">学校；生命只在弹指之间，轻言放弃不值得</tspan><tspan x="1897" dy="15.2">的话句激励着一颗颗曾经怅然失望的心。为了</tspan><tspan x="1897" dy="15.2">让大家更好地了解这个给人带来希望的团体，</tspan><tspan x="1897" dy="15.2">扩大其在群众中的影响力，我们社会调查中心</tspan><tspan x="1897" dy="15.2">非常希望能有一个加深对癌协会员们了解的机</tspan><tspan x="1897" dy="15.2">会，以便将有利信息告知我们身边的朋友，加</tspan><tspan x="1897" dy="15.2">大发挥这个协会服务社会的功能！由此，我们</tspan><tspan x="1897" dy="15.2">发动了这个面对面的互动性活动。</tspan></text><path class="u" d="M1892 6167H2140"/></g>
<g id="r7b"><text class="t" x="1781" y="6205">二、活动时间</text><path class="u" d="M1775 6219H1857"/></g>
<g id="r7c"><text class="t" x="1781" y="6349">三、活动目的及意义:</text><path class="u" d="M1775 6363H1922"/></g>
<g id="r7c1"><text class="t" x="1933" y="6257.8">感受癌友们的可贵精神及给这个团体注入青春<tspan x="1933" dy="15.2">的活力；让他们知道，社会在关心他们，敬佩</tspan><tspan x="1933" dy="15.2">他们，相信他们的"生命是最美的。并且，我</tspan><tspan x="1933" dy="15.2">们希望这次活动能成为双方建立长期合作关系</tspan><tspan x="1933" dy="15.2">的一个开端，社会调查中心将长期关注癌症协</tspan><tspan x="1933" dy="15.2">会的发展，做好该协会的调查研究与宣传，让</tspan><tspan x="1933" dy="15.2">全社会关注癌症，重视癌症！</tspan></text><path class="u" d="M1927 6363H2175"/></g>
<g id="r7d"><text class="t" x="1781" y="6607.8">四、活动的开展（具体计划视情况可能变动）<tspan x="1781" dy="15.2">:</tspan></text><path class="u" d="M1775 6637H2034"/></g>
<g id="r7d1"><text class="t" x="2051" y="6401.4">1、前期准备工作，主要是节目的编排。协会<tspan x="2051" dy="15.2">内部以年级为单位出节目，04级李文轩负责</tspan><tspan x="2051" dy="15.2">；05级韦朝萍和王琼负责；06级慈天华和徐</tspan><tspan x="2051" dy="15.2">荣负责。总共出四个节目为宜。</tspan></text><path class="u" d="M2044 6461H2293"/></g>
<g id="r7d2"><text class="t" x="2051" y="6499.8">2、保持好与癌症协会的联系，注意活动的变<tspan x="2051" dy="15.2">化情况。（严懿负责）</tspan></text><path class="u" d="M2044 6529H2293"/></g>
<g id="r7d3"><text class="t" x="2051" y="6566.6">3、1月17日宣传部贴出活动宣传海报，邀请<tspan x="2051" dy="15.2">本协会的会员及广大师生参与我们的活动。三</tspan><tspan x="2051" dy="15.2">张海报的制作及张贴由罗珊负责。</tspan></text><path class="u" d="M2044 6611H2293"/></g>
<g id="r7d4"><text class="t" x="2051" y="6648.8">4、各年级负责人（如1项规定）负责做好本<tspan x="2051" dy="15.2">年级的宣传工作，并落实到各班。</tspan></text><path class="u" d="M2044 6678H2293"/></g>
<g id="r7d5"><text class="t" x="2051" y="6716.8">8、整个活动过程的拍摄工作由彭飞燕和慈天<tspan x="2051" dy="15.2">华负责。</tspan></text><path class="u" d="M2044 6746H2293"/></g>
<g id="r7d6"><text class="t" x="2051" y="6783.8">9、调研部做好活动记录，并写出活动总结。<tspan x="2051" dy="15.2">（石兴谊负责）</tspan></text><path class="u" d="M2044 6813H2293"/></g>

<g id="l2a"><text class="t" x="736" y="1422">一、活动主题:</text><path class="u" d="M728 1436H825"/></g>
<g id="l2a1"><text class="t" x="561" y="1422">传承中武精神，以武会友。</text><path class="u" d="M554 1436H715"/></g>
<g id="l2b"><text class="t" x="749" y="1550">二、活动宗旨</text><path class="u" d="M741 1564H825"/></g>
<g id="l2b1"><text class="t" x="479" y="1474">文明其精神，野蛮其体魄。武术协会是以增强<tspan x="479" dy="15.2">学生身体素质，培养吃苦耐劳、坚毅不拔的品</tspan><tspan x="479" dy="15.2">质，提高自身的技能，弘扬武术精神为宗旨的</tspan><tspan x="479" dy="15.2">全校性的协会组织。协会秉承着"以武修身，</tspan><tspan x="479" dy="15.2">以德服人"的协会宗旨积极的开展各种强身健</tspan><tspan x="479" dy="15.2">体活动，丰富我们的大学生活。</tspan></text><path class="u" d="M472 1564H720"/></g>
<g id="l2c"><text class="t" x="714" y="1628">三、招新地点与时间</text><path class="u" d="M706 1642H825"/></g>
<g id="l2c1"><text class="t" x="507" y="1602">时间：9月份，具体由社联规定。</text><path class="u" d="M501 1616H685"/></g>
<g id="l2c2"><text class="t" x="561" y="1655">地点：二食堂公路两旁</text><path class="u" d="M554 1669H685"/></g>
<g id="l2d"><text class="t" x="736" y="1707">四、主办单位:</text><path class="u" d="M728 1721H825"/></g>
<g id="l2d1"><text class="t" x="621" y="1707">学生社团联合会</text><path class="u" d="M615 1721H708"/></g>
<g id="l2e"><text class="t" x="736" y="1759">五、承办单位:</text><path class="u" d="M728 1773H825"/></g>
<g id="l2e1"><text class="t" x="656" y="1759">武术协会</text><path class="u" d="M650 1773H708"/></g>
<g id="l2f"><text class="t" x="722" y="1811">六、　参加人员会:</text><path class="u" d="M716 1825H825"/></g>
<g id="l2f1"><text class="t" x="617" y="1811">武术协会干事</text><path class="u" d="M611 1825H693"/></g>
<g id="l2g"><text class="t" x="749" y="1925">七、活动目的</text><path class="u" d="M741 1939H825"/></g>
<g id="l2g1"><text class="t" x="479" y="1864.2">为了扩充武术协会新的、优秀的人力资源力量<tspan x="479" dy="15.2">，同时让武术爱好者有个展示自我，结交同道</tspan><tspan x="479" dy="15.2">之人的平台。同时也为了宣传我协会，吸纳更</tspan><tspan x="479" dy="15.2">多热爱武术的同学，为我校社团之家做出应有</tspan><tspan x="479" dy="15.2">的贡献。</tspan></text><path class="u" d="M472 1939H720"/></g>
<g id="l2h"><text class="t" x="749" y="2370">八、活动安排</text><path class="u" d="M741 2384H825"/></g>
<g id="l2h1"><text class="t" x="620" y="1977">【一】招新对象:</text><path class="u" d="M603 1991H720"/></g>
<g id="l2h1a"><text class="t" x="455" y="1977">xx级新生，以及xx级学生</text><path class="u" d="M450 1991H590"/></g>
<g id="l2h2"><text class="t" x="620" y="2145">【二】招新要求:</text><path class="u" d="M603 2159H720"/></g>
<g id="l2h2a"><text class="t" x="351" y="2028.8">1、承认武术协会章程，自觉遵守学生会各项<tspan x="351" dy="15.2">规章制度。</tspan></text><path class="u" d="M344 2058H592"/></g>
<g id="l2h2b"><text class="t" x="351" y="2096.8">2、思想品德良好，工作积极主动，耐心细心<tspan x="351" dy="15.2">，责任新强，肯吃苦耐劳</tspan></text><path class="u" d="M344 2126H592"/></g>
<g id="l2h2c"><text class="t" x="351" y="2163.8">3、有一定自我锻炼，自我管理意识，有组织<tspan x="351" dy="15.2">能力，服从组织安排</tspan></text><path class="u" d="M344 2193H592"/></g>
<g id="l2h2d"><text class="t" x="351" y="2231.8">4、有团队合作精神，能够积极主动向组织靠<tspan x="351" dy="15.2">拢。</tspan></text><path class="u" d="M344 2261H592"/></g>
<g id="l2h3"><text class="t" x="596" y="2487">【三】活动具体计划:</text><path class="u" d="M590 2501H720"/></g>
<g id="l2h3a"><text class="t" x="327" y="2298.2">1。、20xx年9月招新之前在校内各宣传栏张<tspan x="327" dy="15.2">贴宣传海报，内容新颖，形式多样，要充分突</tspan><tspan x="327" dy="15.2">出武术协会的特色，感受到协会内部的武术精</tspan><tspan x="327" dy="15.2">神！制作一定量的协会传单，用简短的文字方</tspan><tspan x="327" dy="15.2">式对协会内部结构进行概括。</tspan></text><path class="u" d="M321 2373H568"/></g>
<g id="l2h3b"><text class="t" x="327" y="2410.8">2、为更加吸引新会员的眼球，促进更多同学<tspan x="327" dy="15.2">加入武术社。在大一新生到来之际，我协会将</tspan><tspan x="327" dy="15.2">会流动我协会学员的活动场地，促使更多学生</tspan><tspan x="327" dy="15.2">知道此协会。在摆台之际，我协会将在自己的</tspan><tspan x="327" dy="15.2">活动范围内，推出双节棍，套路，等表演（具</tspan><tspan x="327" dy="15.2">体表演同学我们会在内部决定），并现场体验</tspan><tspan x="327" dy="15.2">。希望更多学生了解武术协会。</tspan></text><path class="u" d="M321 2516H568"/></g>
<g id="l2h3c"><text class="t" x="327" y="2555.2">3、在正式招新当天，由武术协会出海报宣武<tspan x="327" dy="15.2">术的协会成立和说明本次招新活动的目的，另</tspan><tspan x="327" dy="15.2">外我们会贴出我们协会在前期活动的照片以及</tspan><tspan x="327" dy="15.2">我们的宣传单，让同学们了解我们武术协会的</tspan><tspan x="327" dy="15.2">活动，而且我们还拿来</tspan></text><path class="u" d="M321 2630H568"/></g>
<g id="l2h3c1"><text class="t" x="68" y="2600.8">武术器材供同学们观赏，并在旁边注明各种<tspan x="68" dy="15.2">器材的名称，由会员在现场为同学耐心讲解</tspan></text><path class="u" d="M60 2630H310"/></g>
<g id="l2h4"><text class="t" x="620" y="2762">【四】人员安排:</text><path class="u" d="M603 2776H720"/></g>
<g id="l2h4a"><text class="t" x="505" y="2684">一）招新安排:</text><path class="u" d="M496 2698H592"/></g>
<g id="l2h4a1"><text class="t" x="222" y="2668.8">招新点人员一共四组，每组三人，按上、下午换<tspan x="222" dy="15.2">班。</tspan></text><path class="u" d="M215 2698H480"/></g>
<g id="l2h4b"><text class="t" x="505" y="2840">二）细节安排:</text><path class="u" d="M490 2854H592"/></g>
<g id="l2h4b1"><text class="t" x="363" y="2736">1、海报横幅：xxx。</text><path class="u" d="M357 2750H476"/></g>
<g id="l2h4b2"><text class="t" x="327" y="2788">2、策划书，宣传单：xxx。</text><path class="u" d="M321 2802H476"/></g>
<g id="l2h4b3"><text class="t" x="327" y="2840">3、登记单，会员表：xxx。</text><path class="u" d="M321 2854H476"/></g>
<g id="l2h4b4"><text class="t" x="304" y="2892">4、会计（记账，收钱）：xxx。</text><path class="u" d="M297 2906H476"/></g>
<g id="l2h4b5"><text class="t" x="304" y="2945">5、后备人员：xxx，xxx，xxx。</text><path class="u" d="M297 2959H476"/></g>
<g id="l2i"><text class="t" x="736" y="3076">九、资金预算:</text><path class="u" d="M728 3090H825"/></g>
<g id="l2i1"><text class="t" x="599" y="2997">宣传单500份 100元</text><path class="u" d="M593 3011H709"/></g>
<g id="l2i2"><text class="t" x="631" y="3050">颜料5瓶 50元</text><path class="u" d="M626 3064H709"/></g>
<g id="l2i3"><text class="t" x="622" y="3102">A0纸10张 20元</text><path class="u" d="M616 3116H709"/></g>
<g id="l2i4"><text class="t" x="646" y="3154">合计170元</text><path class="u" d="M640 3168H709"/></g>
<g id="l2j"><text class="t" x="736" y="3207">十、后期工作:</text><path class="u" d="M730 3221H825"/></g>

<g id="l4a"><text class="t" x="583" y="3258.4">为了使本学期的工作能够有条不紊的开展，丰<tspan x="583" dy="15.2">富同学们的校园生活，达成协会的目标和宗旨</tspan><tspan x="583" dy="15.2">，实现提高同学们的演讲能力的目的，现将本</tspan><tspan x="583" dy="15.2">协会的工作如下:</tspan></text><path class="u" d="M577 3318H825"/></g>
<g id="l4b"><text class="t" x="746" y="3356">一:九月份上旬</text><path class="u" d="M740 3370H825"/></g>
<g id="l4c"><text class="t" x="583" y="3408.4">招收新的会员，准备好协会的相关资料及信息<tspan x="583" dy="15.2">，做好宣传工作，扩大协会的人数，增强本协</tspan><tspan x="583" dy="15.2">会的影响力。以各种形式宣传本协会的具体情</tspan><tspan x="583" dy="15.2">况来招收新的会员，如召开各班的团支书会议</tspan><tspan x="583" dy="15.2">等。另外除了针对新的会员外，对旧会员的重</tspan><tspan x="583" dy="15.2">新招收也有着重要的意义，所以这学期除了加</tspan><tspan x="583" dy="15.2">强招收新的会员外，旧一届的会员也列为这学</tspan><tspan x="583" dy="15.2">期的招收重点，争取能够突破上一届的会员人</tspan><tspan x="583" dy="15.2">数。</tspan></text><path class="u" d="M577 3544H825"/></g>
<g id="l4d"><text class="t" x="746" y="3582">二:九月份中旬</text><path class="u" d="M740 3596H825"/></g>
<g id="l4e"><text class="t" x="583" y="3634.4">召开全体会员大会，在第一次会员大会上，将<tspan x="583" dy="15.2">由我们理事上演小品，相声以及进行演讲，以</tspan><tspan x="583" dy="15.2">便于展现出协会的特色和吸引会员们，让他们</tspan><tspan x="583" dy="15.2">对协会充满兴趣及热爱。</tspan></text><path class="u" d="M577 3694H825"/></g>
<g id="l4f"><text class="t" x="583" y="3733.8">实行协会内分层管理制度，把会员分为外联组<tspan x="583" dy="15.2">，宣传组，文娱组，后勤组四大组来进行管理</tspan><tspan x="583" dy="15.2">。由正副组长同时管理。要求各位理事做好本</tspan><tspan x="583" dy="15.2">职工作，明确自己的任务，加强理事们的责任</tspan><tspan x="583" dy="15.2">心及与会员们的关系。四大组的组长将以会议</tspan><tspan x="583" dy="15.2">的形式让组员了解该组的具体内容并做简单的</tspan><tspan x="583" dy="15.2">授课，授课内容为手语、演讲的基本礼仪等。</tspan></text><path class="u" d="M577 3839H825"/></g>
<g id="l4g"><text class="t" x="583" y="3876.2">本协会将定期召开理事会议，无论总校区还是<tspan x="583" dy="15.2">分校都照常进行，主要是汇报近期的工作情况</tspan><tspan x="583" dy="15.2">和交流工作心得。总结近期优、缺点。与理事</tspan><tspan x="583" dy="15.2">们一起解决工作上的问题，提出意见及建议，</tspan><tspan x="583" dy="15.2">及时传达团委的各项工作指示。</tspan></text><path class="u" d="M577 3951H825"/></g>
<g id="l4h"><text class="t" x="746" y="3990">三:十月份上旬</text><path class="u" d="M740 4004H825"/></g>
<g id="l4i"><text class="t" x="583" y="4041.8">策划好上课内容和课程的分配并邀请老师进行<tspan x="583" dy="15.2">授课。</tspan></text><path class="u" d="M577 4071H825"/></g>
<g id="l4j"><text class="t" x="746" y="4109">四:十月份下旬</text><path class="u" d="M740 4123H825"/></g>
<g id="l4k"><text class="t" x="583" y="4161.6">为了增进会员对协会的喜爱与会员之间的友谊<tspan x="583" dy="15.2">，提高会员们的表演能力与胆量，本协会将举</tspan><tspan x="583" dy="15.2">行一次小型的小品与相声比赛。</tspan></text><path class="u" d="M577 4206H825"/></g>
<g id="l4l"><text class="t" x="732" y="4244">五:十一月份上旬</text><path class="u" d="M727 4258H825"/></g>
<g id="l4m"><text class="t" x="583" y="4296.4">为了阔展我们的知识面，增强本协会与外校的<tspan x="583" dy="15.2">友谊，我们将组织与外校相关的演讲协会进行</tspan><tspan x="583" dy="15.2">一次交流会，以便于工作交流，吸取经验，取</tspan><tspan x="583" dy="15.2">长补短，互相学习，共同进步。</tspan></text><path class="u" d="M577 4356H825"/></g>
<g id="l4n"><text class="t" x="732" y="4394">六:十二月份上旬</text><path class="u" d="M727 4408H825"/></g>
<g id="l4o"><text class="t" x="583" y="4446">为了提高会员们的口语表达能力，树立正确的<tspan x="583" dy="15.2">人生观和价值观，使会员们有展示自我和锻炼</tspan><tspan x="583" dy="15.2">自我的机会，拥有挑战自我的舞台。体现丰富</tspan><tspan x="583" dy="15.2">多彩的演艺水平，为演讲口才打下良好的基础</tspan><tspan x="583" dy="15.2">，本协会将举行第四届"放飞职业理想，激扬</tspan><tspan x="583" dy="15.2">青春旋律"主题演讲比赛。</tspan></text><path class="u" d="M577 4536H825"/></g>
<g id="l4p"><text class="t" x="732" y="4575">七:十二月份下旬</text><path class="u" d="M727 4589H825"/></g>
<g id="l4q"><text class="t" x="583" y="4626.6">本协会将举行一次小型的绕口令比赛，以提高<tspan x="583" dy="15.2">会员们的语言表达能力，促进敏捷思维的锻炼</tspan><tspan x="583" dy="15.2">，丰富会员们的课余生活。</tspan></text><path class="u" d="M577 4671H825"/></g>
<g id="l4r"><text class="t" x="769" y="4710">八:一月份</text><path class="u" d="M763 4724H825"/></g>
<g id="l4s"><text class="t" x="583" y="4761.2">召开全体会员会议，了解会员们对本协会的看<tspan x="583" dy="15.2">法，收集会员们的意见及建议。开展一次"协</tspan><tspan x="583" dy="15.2">会伴我成长"的理事主题会议，了解每位理事</tspan><tspan x="583" dy="15.2">在本学期工作上的收获与心得，并做出下学期</tspan><tspan x="583" dy="15.2">的活动计划以便协会的工作能够顺利进行。</tspan></text><path class="u" d="M577 4836H825"/></g>
<g id="l4t"><text class="t" x="583" y="4875.6">以上是"品言"演讲协会__~__学年第一学期的<tspan x="583" dy="15.2">工作计划，我坚信在我们理事和团委老师的努</tspan><tspan x="583" dy="15.2">力下演讲协会的明天会更加美好!</tspan></text><path class="u" d="M577 4920H825"/></g>
<g id="l4u"><text class="t" x="739" y="4957">"品言"演讲协会</text><path class="u" d="M732 4971H825"/></g>

<g id="l6a"><text class="t" x="749" y="5059">一、日常活动</text><path class="u" d="M741 5073H825"/></g>
<g id="l6a1"><text class="t" x="479" y="5010.8">1、例会。心理协会的每位会员每周二下午五<tspan x="479" dy="15.2">点开一次例会。无特殊情况的都需参加。</tspan></text><path class="u" d="M472 5040H720"/></g>
<g id="l6a2"><text class="t" x="479" y="5076.8">2、发挥协会各部门的作用，我外联部将会积<tspan x="479" dy="15.2">极配合各部门的工作。</tspan></text><path class="u" d="M472 5106H720"/></g>
<g id="l6b"><text class="t" x="634" y="5278">二、特色活动(视情况决定是否举办)</text><path class="u" d="M618 5292H825"/></g>
<g id="l6b1"><text class="t" x="488" y="5172">1、三八节系列活动:</text><path class="u" d="M469 5186H607"/></g>
<g id="l6b1a"><text class="t" x="321" y="5145">(1)女性心理健康知识讲座</text><path class="u" d="M315 5159H459"/></g>
<g id="l6b1b"><text class="t" x="218" y="5197">(2)女性心理健康知识趣味竞赛(包括心理游戏)</text><path class="u" d="M210 5211H459"/></g>
<g id="l6b2"><text class="t" x="429" y="5250">2、四月下旬开展模拟招聘活动。</text><path class="u" d="M423 5264H607"/></g>
<g id="l6b3"><text class="t" x="364" y="5369.8">3、五月"我爱我"(5月25日)心理健康活动周系<tspan x="364" dy="15.2">列精品活动</tspan></text><path class="u" d="M358 5399H607"/></g>
<g id="l6b3a"><text class="t" x="73" y="5301.8">(1)"热爱生命，善待生命，生命有限，珍惜生命"<tspan x="73" dy="15.2">系列活动，做好心理健康知识的宣传。</tspan></text><path class="u" d="M65 5331H337"/></g>
<g id="l6b3b"><text class="t" x="108" y="5369.8">(2)开展"自尊、自爱、自信、自强、自立"<tspan x="108" dy="15.2">主题活动</tspan></text><path class="u" d="M100 5399H337"/></g>
<g id="l6b3c"><text class="t" x="105" y="5436.8">(3)组织心理协会会员到大型社区或敬老<tspan x="105" dy="15.2">院进行心理健康宣传。</tspan></text><path class="u" d="M97 5466H337"/></g>
<g id="l6c"><text class="t" x="749" y="5583">三、学院活动</text><path class="u" d="M741 5597H825"/></g>
<g id="l6c1"><text class="t" x="479" y="5504.6">在新的学期里，我们将积极的响应学院的号召<tspan x="479" dy="15.2">，服从领导的安排。配合好所展开的每一次心</tspan><tspan x="479" dy="15.2">理活动</tspan></text><path class="u" d="M472 5549H720"/></g>
<g id="l6c2"><text class="t" x="479" y="5586.4">心理健康协会是以普及心理保健知识，促进人<tspan x="479" dy="15.2">格发展，提高心理素质，激发自身潜力为宗旨</tspan><tspan x="479" dy="15.2">的学生社团。我们将继续发扬这一理念，提高</tspan><tspan x="479" dy="15.2">自身，服务同学!</tspan></text><path class="u" d="M472 5646H720"/></g>

<g id="watermarks">
<text class="wm" transform="translate(640 560) rotate(-27)">树图 shutu.cn</text>
<text class="wm" transform="translate(635 1545) rotate(-27)">树图 shutu.cn</text>
<text class="wm" transform="translate(640 2540) rotate(-27)">树图 shutu.cn</text>
<text class="wm" transform="translate(640 3530) rotate(-27)">树图 shutu.cn</text>
<text class="wm" transform="translate(650 4520) rotate(-27)">树图 shutu.cn</text>
<text class="wm" transform="translate(650 5500) rotate(-27)">树图 shutu.cn</text>
<text class="wm" transform="translate(640 6490) rotate(-27)">树图 shutu.cn</text>
<text class="wm" transform="translate(1950 480) rotate(-27)">树图 shutu.cn</text>
<text class="wm" transform="translate(1950 1480) rotate(-27)">树图 shutu.cn</text>
<text class="wm" transform="translate(1950 2520) rotate(-27)">树图 shutu.cn</text>
<text class="wm" transform="translate(1915 3550) rotate(-27)">树图 shutu.cn</text>
<text class="wm" transform="translate(1950 4460) rotate(-27)">树图 shutu.cn</text>
<text class="wm" transform="translate(1950 5480) rotate(-27)">树图 shutu.cn</text>
<text class="wm" transform="translate(1900 6520) rotate(-27)">树图 shutu.cn</text>
</g>
</g>
</svg>
